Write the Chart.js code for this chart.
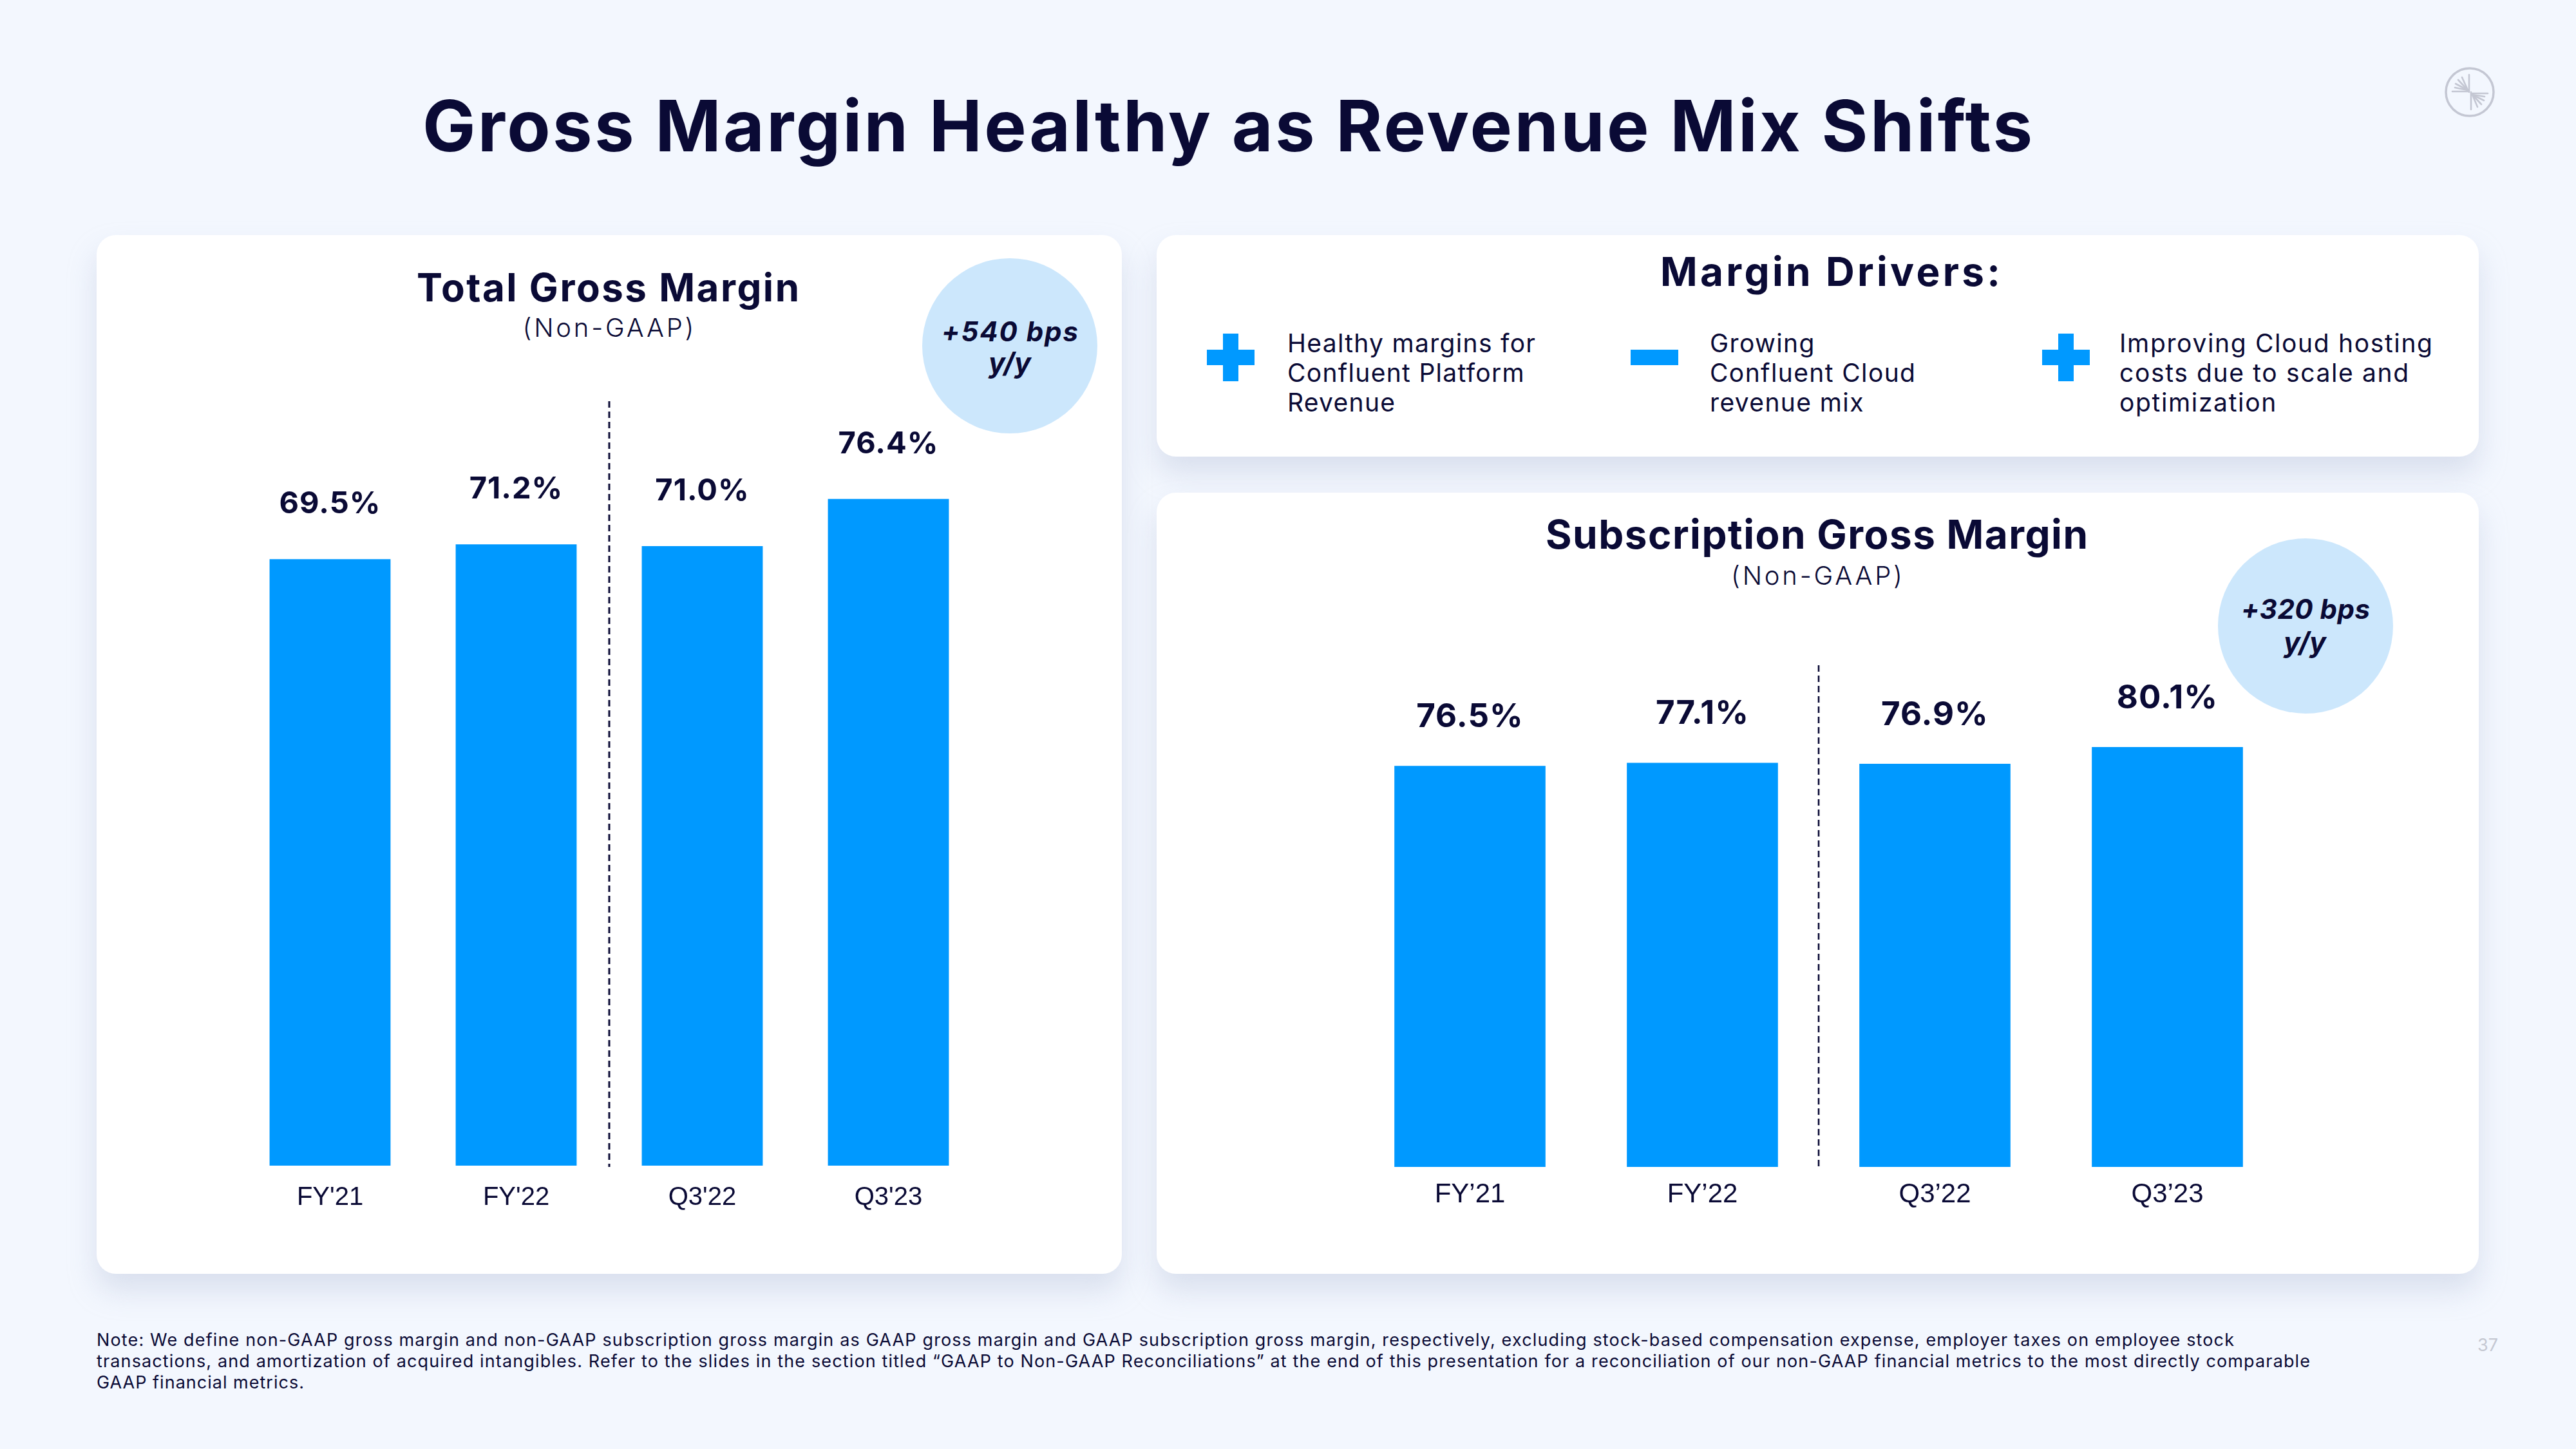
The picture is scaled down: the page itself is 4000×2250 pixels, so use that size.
<!DOCTYPE html>
<html>
<head>
<meta charset="utf-8">
<script src="https://cdn.jsdelivr.net/npm/chart.js@4.4.1/dist/chart.umd.min.js"></script>
<style>
  html, body { margin:0; padding:0; }
  body { width:4000px; height:2250px; background:#F3F7FE; position:relative; overflow:hidden;
         font-family:Inter, 'Noto Sans', sans-serif; color:#0A0A35; }
  .card { position:absolute; background:#FFFFFF; border-radius:30px; box-shadow:0 26px 44px rgba(176,186,212,0.38); }
  .t { position:absolute; white-space:nowrap; margin:0; }
  .b { font-weight:700; }
  .bi { font-weight:700; font-style:italic; }
  .l { font-weight:300; }
  .r { font-weight:400; }
  .bubble { position:absolute; border-radius:50%; background:#CCE7FC; }
  canvas { position:absolute; }
  .icon { position:absolute; background:#0099FF; }
</style>
</head>
<body>
<div class="card" style="left:150px;top:365px;width:1592px;height:1613px;"></div>
<div class="card" style="left:1796px;top:365px;width:2053px;height:344px;"></div>
<div class="card" style="left:1796px;top:765px;width:2053px;height:1213px;"></div>

<svg style="position:absolute;left:3795px;top:103px;" width="80" height="80" viewBox="0 0 80 80">
  <g stroke="#C4C7D3" fill="none" stroke-linecap="round">
    <circle cx="40" cy="40" r="37" stroke-width="3.5"/>
    <g stroke-width="2.6">
      <line x1="39" y1="13" x2="39" y2="40"/>
      <line x1="42" y1="40" x2="42" y2="67"/>
      <line x1="13" y1="39" x2="39" y2="39"/>
      <line x1="42" y1="42" x2="68" y2="42"/>
      <line x1="37" y1="37" x2="18" y2="27"/>
      <line x1="37" y1="37" x2="22" y2="21"/>
      <line x1="37" y1="37" x2="28" y2="17"/>
      <line x1="37" y1="37" x2="17" y2="33"/>
      <line x1="44" y1="44" x2="62" y2="53"/>
      <line x1="44" y1="44" x2="58" y2="59"/>
      <line x1="44" y1="44" x2="52" y2="63"/>
      <line x1="44" y1="44" x2="63" y2="47"/>
    </g>
  </g>
</svg>

<div class="bubble" style="left:1432px;top:401px;width:272px;height:272px;"></div>
<div class="bubble" style="left:3444px;top:836px;width:272px;height:272px;"></div>

<div class="t b" data-x="1906" data-align="c" data-base="235" data-fs="110" data-w="2500">Gross Margin Healthy as Revenue Mix Shifts</div>

<div class="t b" data-x="944" data-align="c" data-base="468" data-fs="60" data-w="594">Total Gross Margin</div>
<div class="t l" data-x="944.5" data-align="c" data-base="524" data-fs="40" data-w="266">(Non-GAAP)</div>
<div class="t bi" id="bubbleTotal1" data-x="1568" data-align="c" data-base="530" data-fs="42" data-w="212"></div>
<div class="t bi" data-x="1568" data-align="c" data-base="579" data-fs="43">y/y</div>

<div class="t b" data-x="2842" data-align="c" data-base="445" data-fs="62" data-w="528">Margin Drivers:</div>
<div class="icon" style="left:1874px;top:543px;width:74px;height:24px;"></div>
<div class="icon" style="left:1899px;top:518px;width:24px;height:74px;"></div>
<div class="icon" style="left:2532px;top:543px;width:74px;height:24px;"></div>
<div class="icon" style="left:3171px;top:543px;width:74px;height:24px;"></div>
<div class="icon" style="left:3196px;top:518px;width:24px;height:74px;"></div>
<div class="t r" data-x="1999" data-base="547" data-fs="39" data-lh="46" data-w="385" data-ref="Healthy margins for">Healthy margins for<br>Confluent Platform<br>Revenue</div>
<div class="t r" data-x="2655" data-base="547" data-fs="39" data-lh="46" data-w="319" data-ref="Confluent Cloud">Growing<br>Confluent Cloud<br>revenue mix</div>
<div class="t r" data-x="3291" data-base="547" data-fs="39" data-lh="46" data-w="486" data-ref="Improving Cloud hosting">Improving Cloud hosting<br>costs due to scale and<br>optimization</div>

<div class="t b" data-x="2821" data-align="c" data-base="853" data-fs="62" data-w="842">Subscription Gross Margin</div>
<div class="t l" data-x="2821" data-align="c" data-base="909" data-fs="40" data-w="266">(Non-GAAP)</div>
<div class="t bi" id="bubbleSub1" data-x="3580" data-align="c" data-base="961" data-fs="42" data-w="200"></div>
<div class="t bi" data-x="3579" data-align="c" data-base="1013" data-fs="43">y/y</div>

<div class="t r" data-x="150" data-base="2090" data-fs="27" data-w="3319">Note: We define non-GAAP gross margin and non-GAAP subscription gross margin as GAAP gross margin and GAAP subscription gross margin, respectively, excluding stock-based compensation expense, employer taxes on employee stock</div>
<div class="t r" data-x="150" data-base="2123" data-fs="27" data-w="3437">transactions, and amortization of acquired intangibles. Refer to the slides in the section titled “GAAP to Non-GAAP Reconciliations” at the end of this presentation for a reconciliation of our non-GAAP financial metrics to the most directly comparable</div>
<div class="t r" data-x="150" data-base="2156" data-fs="27" data-w="322">GAAP financial metrics.</div>
<div class="t r" style="color:#C5C8D2;" data-x="3847" data-base="2098" data-fs="27">37</div>

<canvas id="totalChart" width="1156" height="1429" style="left:368px;top:455px;width:1156px;height:1429px;"></canvas>
<canvas id="subChart" width="1444" height="882" style="left:2102px;top:998px;width:1444px;height:882px;"></canvas>

<script>
// ---------------- DATA ----------------
const categoriesTotal = ["FY'21", "FY'22", "Q3'22", "Q3'23"];
const totalGrossMargin = [69.5, 71.2, 71.0, 76.4];

const categoriesSub = ["FY’21", "FY’22", "Q3’22", "Q3’23"];
const subscriptionGrossMargin = [76.5, 77.1, 76.9, 80.1];

const yAxisMin = 0;
const yAxisMax = 100;

// y/y change in basis points (Q3'23 vs Q3'22)
const bps = arr => Math.round((arr[3] - arr[2]) * 100);
document.getElementById('bubbleTotal1').textContent = '+' + bps(totalGrossMargin) + ' bps';
document.getElementById('bubbleSub1').textContent = '+' + bps(subscriptionGrossMargin) + ' bps';

// ---------------- TEXT PLACEMENT ----------------
const mctx = document.createElement('canvas').getContext('2d');
const ASC = 0.96875, DESC = 0.2415;
document.querySelectorAll('.t').forEach(el => {
  const fs = +el.dataset.fs, lh = +(el.dataset.lh || fs);
  el.style.fontSize = fs + 'px';
  el.style.lineHeight = lh + 'px';
  const cs = getComputedStyle(el);
  const ref = el.dataset.ref || el.textContent;
  mctx.font = `${cs.fontStyle} ${cs.fontWeight} ${fs}px ${cs.fontFamily}`;
  const w = mctx.measureText(ref).width;
  let W = w;
  if (el.dataset.w) {
    W = +el.dataset.w;
    const ls = (W - w) / Math.max(1, ref.length - 1);
    el.style.letterSpacing = ls + 'px';
  }
  const x = +el.dataset.x;
  el.style.left = (el.dataset.align === 'c' ? x - W / 2 : x) + 'px';
  el.style.top = (+el.dataset.base - ((lh - (ASC + DESC) * fs) / 2 + ASC * fs)) + 'px';
});

// ---------------- PLUGINS ----------------
const valueLabels = {
  id: 'valueLabels',
  afterDatasetsDraw(chart, args, opts) {
    const ctx = chart.ctx;
    const meta = chart.getDatasetMeta(0);
    const data = chart.data.datasets[0].data;
    ctx.save();
    ctx.font = opts.font;
    ctx.fillStyle = opts.color;
    ctx.textAlign = 'center';
    ctx.textBaseline = 'alphabetic';
    if ('letterSpacing' in ctx) ctx.letterSpacing = opts.letterSpacing;
    meta.data.forEach((bar, i) => {
      ctx.fillText(data[i].toFixed(1) + '%', bar.x, bar.y - opts.offset);
    });
    ctx.restore();
  }
};

const divider = {
  id: 'divider',
  afterDatasetsDraw(chart, args, opts) {
    const ctx = chart.ctx, xs = chart.scales.x, ys = chart.scales.y;
    const px = (xs.getPixelForValue(opts.after) + xs.getPixelForValue(opts.after + 1)) / 2;
    ctx.save();
    ctx.strokeStyle = opts.color;
    ctx.lineWidth = opts.width;
    ctx.setLineDash(opts.dash);
    ctx.beginPath();
    ctx.moveTo(Math.round(px), ys.getPixelForValue(opts.topValue));
    ctx.lineTo(Math.round(px), chart.chartArea.bottom + 2);
    ctx.stroke();
    ctx.restore();
  }
};

function makeChart(id, labels, values, cfg) {
  const canvas = document.getElementById(id);
  const build = () => new Chart(canvas, {
    type: 'bar',
    data: {
      labels: labels,
      datasets: [{
        data: values,
        backgroundColor: '#0099FF',
        borderWidth: 0,
        barPercentage: 0.65,
        categoryPercentage: 1.0
      }]
    },
    options: {
      responsive: false,
      maintainAspectRatio: false,
      animation: false,
      events: [],
      layout: { padding: 0 },
      plugins: {
        legend: { display: false },
        tooltip: { enabled: false },
        title: { display: false },
        valueLabels: cfg.labels,
        divider: cfg.divider
      },
      scales: {
        x: {
          grid: { display: false, drawTicks: false },
          border: { display: false },
          ticks: {
            padding: cfg.tickPadding,
            color: '#0A0A35',
            font: { family: "'Liberation Sans', Arial, sans-serif", size: cfg.tickSize, lineHeight: cfg.tickLH + 'px' }
          }
        },
        y: { display: false, min: yAxisMin, max: yAxisMax }
      }
    },
    plugins: [valueLabels, divider]
  });
  let chart = build();
  // make the plot area bottom land where the slide's bar baseline is
  const delta = Math.round(cfg.plotBottom - chart.chartArea.bottom);
  if (delta !== 0) {
    const h = canvas.height + delta, w = canvas.width;
    chart.destroy();
    canvas.width = w; canvas.height = h;
    canvas.style.width = w + 'px'; canvas.style.height = h + 'px';
    chart = build();
  }
  return chart;
}

makeChart('totalChart', categoriesTotal, totalGrossMargin, {
  plotBottom: 1355,
  tickPadding: 26, tickSize: 40, tickLH: 48,
  labels: { font: "700 47px Inter, 'Noto Sans', sans-serif", color: '#0A0A35', offset: 71, letterSpacing: '1px' },
  divider: { after: 1, topValue: 87.6, color: '#0A0A35', width: 3, dash: [10, 6] }
});

makeChart('subChart', categoriesSub, subscriptionGrossMargin, {
  plotBottom: 814,
  tickPadding: 18, tickSize: 42, tickLH: 50,
  labels: { font: "700 51px Inter, 'Noto Sans', sans-serif", color: '#0A0A35', offset: 60, letterSpacing: '1px' },
  divider: { after: 1, topValue: 95.7, color: '#0A0A35', width: 2.6, dash: [10, 6] }
});
</script>
</body>
</html>
